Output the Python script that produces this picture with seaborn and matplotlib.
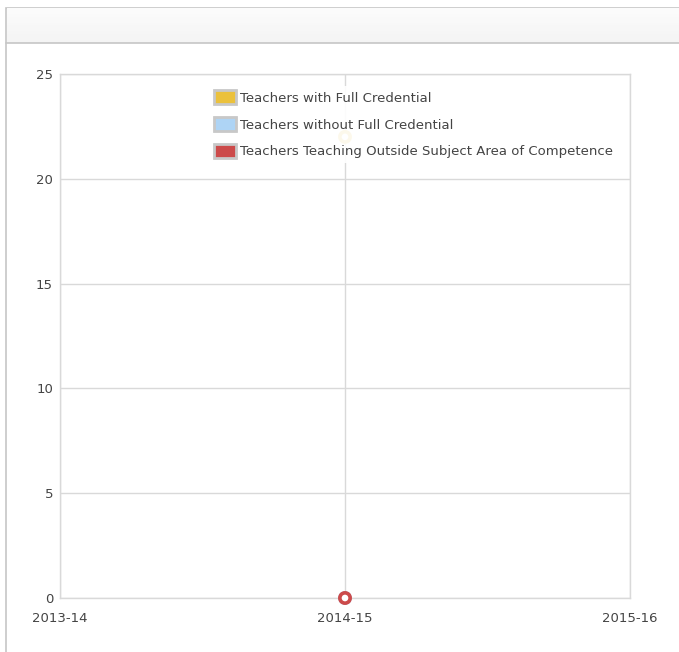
import pandas as pd
import seaborn as sns
import matplotlib

matplotlib.use("Agg")
import matplotlib.pyplot as plt
from matplotlib.patches import Patch, Rectangle

# chart data
years = ["2013-14", "2014-15", "2015-16"]
full_credential = [None, 22, None]
without_credential = [None, 0, None]
outside_subject = [None, 0, None]

series_names = ["Teachers with Full Credential",
                "Teachers without Full Credential",
                "Teachers Teaching Outside Subject Area of Competence"]
series_colors = ["#ebc13c", "#aed4f5", "#cc4a4a"]


def build_frame():
    rows = []
    for name, vals in zip(series_names, [full_credential, without_credential, outside_subject]):
        for i, v in enumerate(vals):
            if v is not None:
                rows.append([i, v, name])
    return pd.DataFrame(rows, columns=["pos", "teachers", "series"])


def draw_panel(fig):
    W, H = 679, 652
    # outer panel border
    fig.patches.append(Rectangle((6 / W, -0.1), 1.2, (H - 8) / H + 0.1,
                                 transform=fig.transFigure, facecolor="white",
                                 edgecolor="#c6c6c6", linewidth=1.2, zorder=0))
    # header bar with a soft gradient
    steps = 12
    top, bottom = H - 9, H - 43
    for k in range(steps):
        shade = 0.985 - 0.03 * k / steps
        y0 = top - (top - bottom) * (k + 1) / steps
        fig.patches.append(Rectangle((6.6 / W, y0 / H), 1.2, (top - bottom) / steps / H + 0.001,
                                     transform=fig.transFigure, facecolor=(shade, shade, shade),
                                     edgecolor="none", zorder=0.5))
    fig.lines.append(plt.Line2D([6 / W, 1], [bottom / H, bottom / H], transform=fig.transFigure,
                                color="#c6c6c6", linewidth=1.2))


def showchart(df):
    sns.set_style("white")
    plt.rcParams["font.family"] = ["DejaVu Sans"]
    fig = plt.figure(figsize=(6.79, 6.52), dpi=100)
    draw_panel(fig)
    W, H = 679, 652
    ax = fig.add_axes([60 / W, 1 - 598 / H, 570 / W, 524 / H])
    ax.set_zorder(2)

    sns.scatterplot(data=df, x="pos", y="teachers", hue="series",
                    hue_order=series_names, palette=series_colors,
                    s=55, linewidth=2.6, legend=False,
                    ax=ax, zorder=4, clip_on=False)
    # hollow markers with coloured edges
    coll = ax.collections[0]
    cols = [series_colors[series_names.index(s)] for s in df["series"]]
    coll.set_edgecolors(cols)
    coll.set_facecolors("white")

    ax.set_xlim(0, len(years) - 1)
    ax.set_ylim(0, 25)
    ax.set_xticks(range(len(years)))
    ax.set_xticklabels(years)
    ax.set_yticks([0, 5, 10, 15, 20, 25])
    ax.grid(True, color="#d9d9d9", linewidth=1)
    ax.tick_params(length=0, labelsize=9.5, labelcolor="#444444")
    ax.tick_params(axis="x", pad=10)
    ax.tick_params(axis="y", pad=5)
    for sp in ax.spines.values():
        sp.set_color("#d9d9d9")
        sp.set_linewidth(1)
    ax.set_xlabel("")
    ax.set_ylabel("")

    handles = [Patch(facecolor=c, edgecolor="#c8c8c8", linewidth=2) for c in series_colors]
    leg = ax.legend(handles, series_names, loc="upper left",
                    bbox_to_anchor=(0.262, 0.978), frameon=True, framealpha=0.9,
                    edgecolor="none", fontsize=9.5, handlelength=1.65, handleheight=1.25,
                    handletextpad=0.35, labelspacing=0.95, borderpad=0.35,
                    borderaxespad=0)
    for t in leg.get_texts():
        t.set_color("#444444")
    leg.set_zorder(5)

    plt.savefig("out.png", dpi=100)


if __name__ == '__main__':
    data = build_frame()
    showchart(data)
